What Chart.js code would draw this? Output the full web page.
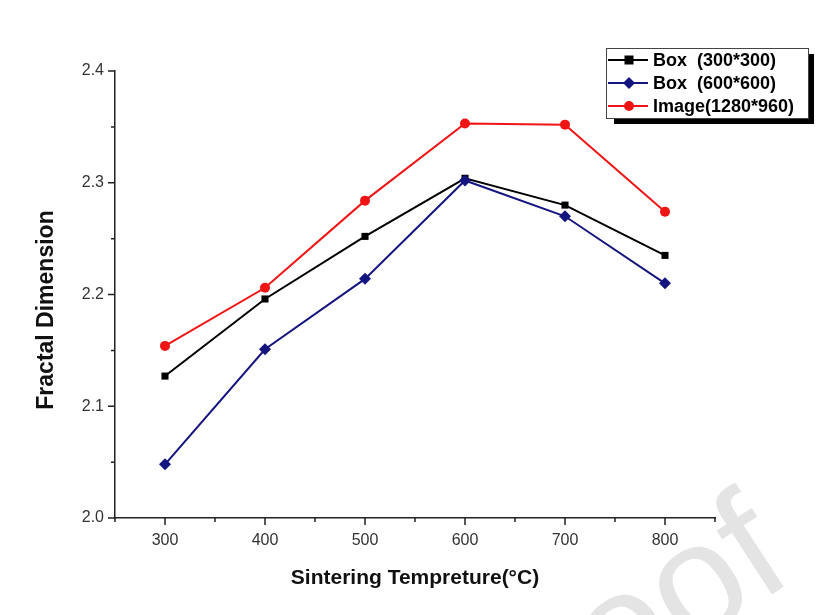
<!DOCTYPE html>
<html lang="en">
<head>
<meta charset="UTF-8">
<title>Fractal Dimension vs Sintering Temperature</title>
<script src="https://cdn.jsdelivr.net/npm/chart.js@4.4.0/dist/chart.umd.min.js"></script>
<style>
  html, body { margin: 0; padding: 0; background: #fff; }
  #wrap { width: 822px; height: 615px; position: relative; }
</style>
</head>
<body>
<div id="wrap"><canvas id="fdChart"></canvas></div>
<script>
// measured fractal dimension for each sintering temperature
const temperatures = [300, 400, 500, 600, 700, 800];
const box300 = [2.127, 2.196, 2.252, 2.304, 2.280, 2.235];
const box600 = [2.048, 2.151, 2.214, 2.302, 2.270, 2.210];
const image1280 = [2.154, 2.206, 2.284, 2.353, 2.352, 2.274];
const seriesNames = ['Box  (300*300)', 'Box  (600*600)', 'Image(1280*960)'];
const xTickLabels = ['300', '400', '500', '600', '700', '800'];
const yTickLabels = ['2.0', '2.1', '2.2', '2.3', '2.4'];

const AXIS_COLOR = '#222';
const LABEL_COLOR = '#333';
const FONT = '"Liberation Sans", Arial, sans-serif';

const toPoints = vals => temperatures.map((t, i) => ({ x: t, y: vals[i] }));

// watermark behind everything
const watermark = {
  id: 'watermark',
  beforeDraw(chart) {
    const ctx = chart.ctx;
    ctx.save();
    ctx.translate(797, 578);
    ctx.rotate(-33 * Math.PI / 180);
    ctx.font = '158px ' + FONT;
    ctx.fillStyle = '#e4e4e4';
    ctx.textAlign = 'right';
    ctx.textBaseline = 'alphabetic';
    ctx.fillText('Proof', 0, 0);
    ctx.restore();
  }
};

// outward major/minor tick marks on both axes, plus the y title
const axisTicks = {
  id: 'axisTicks',
  afterDraw(chart) {
    const ctx = chart.ctx;
    const xs = chart.scales.x, ys = chart.scales.y;
    ctx.save();
    ctx.strokeStyle = AXIS_COLOR;
    ctx.lineWidth = 1.5;
    ctx.beginPath();
    for (let v = 250; v <= 850; v += 50) {
      const px = xs.getPixelForValue(v);
      const len = v % 100 === 0 ? 7 : 4;
      ctx.moveTo(px, ys.bottom);
      ctx.lineTo(px, ys.bottom + len);
    }
    for (let k = 0; k <= 8; k++) {
      const v = 2.0 + k * 0.05;
      const py = ys.getPixelForValue(v);
      const len = k % 2 === 0 ? 7 : 4;
      ctx.moveTo(xs.left, py);
      ctx.lineTo(xs.left - len, py);
    }
    ctx.stroke();

    ctx.translate(47, 310);
    ctx.rotate(-Math.PI / 2);
    ctx.font = 'bold 23px ' + FONT;
    ctx.fillStyle = '#111';
    ctx.textAlign = 'center';
    ctx.textBaseline = 'middle';
    ctx.fillText('Fractal Dimension', 0, 0);
    ctx.restore();
  }
};

function drawMarker(ctx, style, x, y, color) {
  ctx.fillStyle = color;
  ctx.beginPath();
  if (style === 'rect') {
    ctx.rect(x - 4.5, y - 4.5, 9, 9);
  } else if (style === 'rectRot') {
    ctx.moveTo(x, y - 6);
    ctx.lineTo(x + 6, y);
    ctx.lineTo(x, y + 6);
    ctx.lineTo(x - 6, y);
    ctx.closePath();
  } else {
    ctx.arc(x, y, 5, 0, Math.PI * 2);
  }
  ctx.fill();
}

// boxed legend with a drop shadow
const shadowLegend = {
  id: 'shadowLegend',
  afterDraw(chart) {
    const ctx = chart.ctx;
    const bx = 606, by = 48, bw = 202, bh = 70;
    ctx.save();
    ctx.fillStyle = '#000';
    ctx.fillRect(bx + bw, by + 6, 6, bh);
    ctx.fillRect(bx + 8, by + bh, bw - 2, 6);
    ctx.fillStyle = '#fff';
    ctx.fillRect(bx, by, bw, bh);
    ctx.strokeStyle = '#444';
    ctx.lineWidth = 1;
    ctx.strokeRect(bx + 0.5, by + 0.5, bw, bh);
    ctx.font = 'bold 18px ' + FONT;
    ctx.textBaseline = 'middle';
    ctx.textAlign = 'left';
    chart.data.datasets.forEach((ds, i) => {
      const y = by + 12 + i * 23;
      ctx.strokeStyle = ds.borderColor;
      ctx.lineWidth = 2;
      ctx.beginPath();
      ctx.moveTo(bx + 2, y);
      ctx.lineTo(bx + 42, y);
      ctx.stroke();
      drawMarker(ctx, ds.pointStyle, bx + 23, y, ds.borderColor);
      ctx.fillStyle = '#000';
      ctx.fillText(seriesNames[i], bx + 47, y + 1);
    });
    ctx.restore();
  }
};

new Chart(document.getElementById('fdChart'), {
  type: 'scatter',
  data: {
    datasets: [
      { label: seriesNames[0], data: toPoints(box300), borderColor: '#000', backgroundColor: '#000',
        pointStyle: 'rect', pointRadius: 5, order: 3 },
      { label: seriesNames[1], data: toPoints(box600), borderColor: '#15157f', backgroundColor: '#15157f',
        pointStyle: 'rectRot', pointRadius: 6, order: 2 },
      { label: seriesNames[2], data: toPoints(image1280), borderColor: '#f01414', backgroundColor: '#f01414',
        pointStyle: 'circle', pointRadius: 5, order: 1 }
    ].map(ds => Object.assign(ds, { showLine: true, borderWidth: 2, pointBorderWidth: 0, pointHoverRadius: 6 }))
  },
  options: {
    responsive: true,
    maintainAspectRatio: false,
    animation: false,
    layout: { padding: { left: 0, top: 71, right: 107, bottom: 0 } },
    plugins: { legend: { display: false }, tooltip: { enabled: false } },
    scales: {
      x: {
        type: 'linear',
        min: 250, max: 850,
        afterFit: s => { s.height = 97; },
        grid: { display: false, drawTicks: false },
        border: { display: true, color: AXIS_COLOR, width: 1.5 },
        ticks: {
          stepSize: 50, padding: 13, color: LABEL_COLOR, maxRotation: 0, autoSkip: false,
          font: { family: FONT, size: 16 },
          callback: v => xTickLabels.includes(String(v)) ? String(v) : ''
        },
        title: {
          display: true, text: 'Sintering Tempreture(\u00B0C)', color: '#111',
          font: { family: FONT, size: 21, weight: 'bold' }, padding: { top: 0, bottom: 24 }
        }
      },
      y: {
        min: 2.0, max: 2.4,
        afterFit: s => { s.width = 115; },
        grid: { display: false, drawTicks: false },
        border: { display: true, color: AXIS_COLOR, width: 1.5 },
        ticks: {
          stepSize: 0.05, padding: 11, color: LABEL_COLOR, autoSkip: false,
          font: { family: FONT, size: 16 },
          callback: v => {
            const s = v.toFixed(1);
            return Math.abs(v - parseFloat(s)) < 1e-6 && yTickLabels.includes(s) ? s : '';
          }
        }
      }
    }
  },
  plugins: [watermark, axisTicks, shadowLegend]
});
</script>
</body>
</html>
